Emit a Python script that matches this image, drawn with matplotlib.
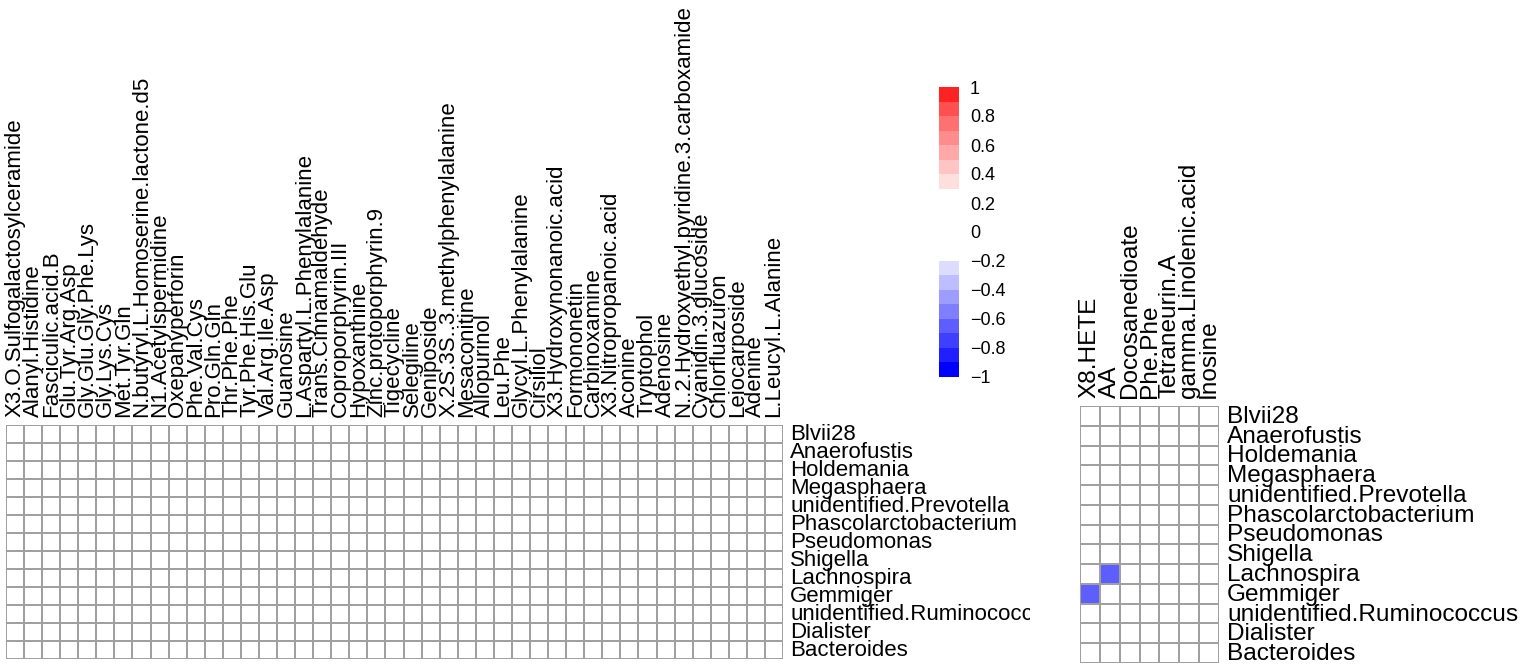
import matplotlib
matplotlib.use("Agg")
import matplotlib.pyplot as plt
import numpy as np
from matplotlib.colors import ListedColormap, BoundaryNorm
from matplotlib.transforms import Bbox, TransformedBbox

plt.rcParams['font.family'] = ['Liberation Sans', 'DejaVu Sans']

# =======================
# Data
# =======================
genera = ["Blvii28", "Anaerofustis", "Holdemania", "Megasphaera",
          "unidentified.Prevotella", "Phascolarctobacterium", "Pseudomonas",
          "Shigella", "Lachnospira", "Gemmiger", "unidentified.Ruminococcus",
          "Dialister", "Bacteroides"]

metab_left = ["X3.O.Sulfogalactosylceramide", "Alanyl.Histidine", "Fasciculic.acid.B",
              "Glu.Tyr.Arg.Asp", "Gly.Glu.Gly.Phe.Lys", "Gly.Lys.Cys", "Met.Tyr.Gln",
              "N.butyryl.L.Homoserine.lactone.d5", "N1.Acetylspermidine", "Oxepahyperforin",
              "Phe.Val.Cys", "Pro.Gln.Gln", "Thr.Phe.Phe", "Tyr.Phe.His.Glu", "Val.Arg.Ile.Asp",
              "Guanosine", "L.Aspartyl.L.Phenylalanine", "Trans.Cinnamaldehyde",
              "Coproporphyrin.III", "Hypoxanthine", "Zinc.protoporphyrin.9", "Tigecycline",
              "Selegiline", "Geniposide", "X.2S.3S..3.methylphenylalanine", "Mesaconitine",
              "Allopurinol", "Leu.Phe", "Glycyl.L.Phenylalanine", "Cirsiliol",
              "X3.Hydroxynonanoic.acid", "Formononetin", "Carbinoxamine",
              "X3.Nitropropanoic.acid", "Aconine", "Tryptophol", "Adenosine",
              "N..2.Hydroxyethyl.pyridine.3.carboxamide", "Cyanidin.3.glucoside",
              "Chlorfluazuron", "Leiocarposide", "Adenine", "L.Leucyl.L.Alanine"]

metab_right = ["X8.HETE", "AA", "Docosanedioate", "Phe.Phe", "Tetraneurin.A",
               "gamma.Linolenic.acid", "Inosine"]

# significant correlations (right panel only), rest shown blank
sig_genus = ["Lachnospira", "Gemmiger"]
sig_metab = ["AA", "X8.HETE"]
sig_r = [-0.63, -0.64]

cbar_ticks = [1, 0.8, 0.6, 0.4, 0.2, 0, -0.2, -0.4, -0.6, -0.8, -1]

# =======================
# Colours
# =======================
pal = ["#0000FF", "#1F1FFF", "#3F3FFF", "#5E5EFF", "#7E7EFF", "#9D9DFF", "#BDBDFF", "#DCDCFF",
       "#FFFFFF", "#FFFFFF", "#FFFFFF", "#FFFFFF", "#FFFFFF",
       "#FFDEDE", "#FFC4C4", "#FFA8A8", "#FF8C8C", "#FF7070", "#FF4F4F", "#FF2222"]
cmap = ListedColormap(pal)
bounds = np.linspace(-1, 1, 21)
norm = BoundaryNorm(bounds, cmap.N)
grid_col = "#A0A0A0"

W, H = 1528, 664
fig = plt.figure(figsize=(W / 100, H / 100), dpi=100)


def px_axes(x0, y0, x1, y1):
    return fig.add_axes([x0 / W, 1 - y1 / H, (x1 - x0) / W, (y1 - y0) / H])


def draw_panel(ax, cols, mat, fs, clip=None):
    nr, nc = mat.shape
    ax.pcolormesh(np.arange(nc + 1), np.arange(nr + 1), mat, cmap=cmap, norm=norm,
                  edgecolors=grid_col, linewidth=1.4)
    ax.set_xlim(0, nc)
    ax.set_ylim(nr, 0)
    ax.axis("off")
    txts = []
    for j, c in enumerate(cols):
        txts.append(ax.text(j + 0.5, -0.42, c, rotation=90, ha="center", va="bottom",
                            fontsize=fs, clip_on=False))
    for i, g in enumerate(genera):
        txts.append(ax.text(nc + 0.4, i + 0.55, g, ha="left", va="center",
                            fontsize=fs, clip_on=False))
    if clip is not None:
        for t in txts:
            t.set_clip_box(clip)
            t.set_clip_on(True)


# left panel (all blank)
mat_left = np.zeros((len(genera), len(metab_left)))
ax1 = px_axes(6, 425, 783, 659)
clip_box = TransformedBbox(Bbox([[0, 0], [1030 / W, 1]]), fig.transFigure)
draw_panel(ax1, metab_left, mat_left, 16, clip=clip_box)

# right panel
mat_right = np.zeros((len(genera), len(metab_right)))
for g, m, r in zip(sig_genus, sig_metab, sig_r):
    mat_right[genera.index(g), metab_right.index(m)] = r
ax2 = px_axes(1080, 406, 1219, 663)
draw_panel(ax2, metab_right, mat_right, 17.6)

# colour legend
cax = px_axes(939, 87, 959, 377)
sm = plt.cm.ScalarMappable(cmap=cmap, norm=norm)
cb = fig.colorbar(sm, cax=cax, boundaries=bounds, ticks=cbar_ticks)
cb.outline.set_visible(False)
cb.ax.set_yticklabels([f"{t:g}".replace("-", "\u2212") for t in cbar_ticks])
cb.ax.tick_params(which="both", length=0, width=0, pad=8, labelsize=13)

fig.savefig("out.png", dpi=100)
